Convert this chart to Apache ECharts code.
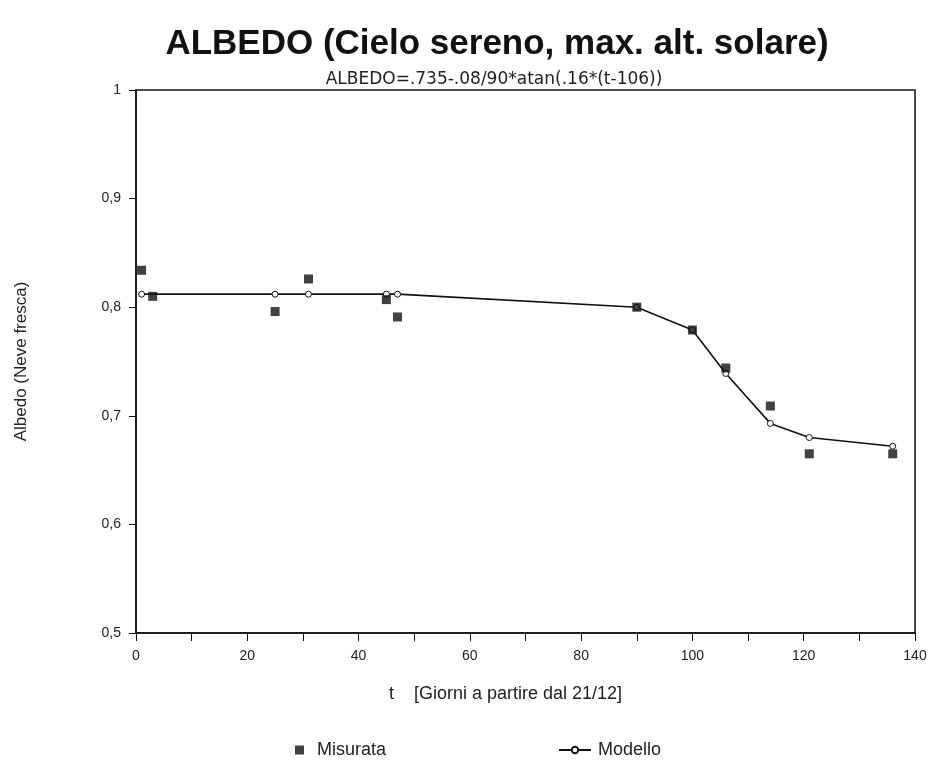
<!DOCTYPE html>
<html>
<head>
<meta charset="utf-8">
<script src="https://cdn.jsdelivr.net/npm/echarts@6/dist/echarts.min.js"></script>
<style>
  html, body { margin: 0; padding: 0; background: #fff; }
  #main { width: 936px; height: 760px; }
</style>
</head>
<body>
<div id="main"></div>
<script>
// giorni (t) e albedo misurata
var tMisurata = [1, 3, 25, 31, 45, 47, 90, 100, 106, 114, 121, 136];
var albedoMisurata = [0.834, 0.810, 0.796, 0.826, 0.807, 0.791, 0.800, 0.779, 0.744, 0.709, 0.665, 0.665];

// modello
var tModello = [1, 25, 31, 45, 47, 90, 100, 106, 114, 121, 136];
var albedoModello = [0.812, 0.812, 0.812, 0.812, 0.812, 0.800, 0.779, 0.739, 0.693, 0.680, 0.672];

var xTicks = [0, 20, 40, 60, 80, 100, 120, 140];
var yTicks = ['0,5', '0,6', '0,7', '0,8', '0,9', '1'];

function pairs(xs, ys) {
  return xs.map(function (x, i) { return [x, ys[i]]; });
}

var myChart = echarts.init(document.getElementById('main'));
var font = 'Liberation Sans, Arial, sans-serif';

var option = {
  backgroundColor: '#fff',
  animation: false,
  title: [
    {
      text: 'ALBEDO (Cielo sereno, max. alt. solare)',
      left: 492,
      top: 22,
      textAlign: 'center',
      textStyle: { fontFamily: font, fontSize: 35, fontWeight: 'bold', color: '#111' }
    },
    {
      text: 'ALBEDO=.735-.08/90*atan(.16*(t-106))',
      left: 489,
      top: 66,
      textAlign: 'center',
      textStyle: { fontFamily: 'DejaVu Sans', fontSize: 17, fontWeight: 'normal', color: '#222' }
    }
  ],
  legend: [
    {
      data: [{ name: 'Misurata', icon: 'rect' }],
      left: 290,
      top: 736,
      itemWidth: 9,
      itemHeight: 9,
      itemGap: 14,
      textStyle: { fontFamily: font, fontSize: 18, color: '#222', padding: [0, 0, 0, 8] }
    },
    {
      data: ['Modello'],
      left: 553,
      top: 736,
      itemWidth: 32,
      itemHeight: 8,
      textStyle: { fontFamily: font, fontSize: 18, color: '#222', padding: [0, 0, 0, 2] }
    }
  ],
  grid: {
    left: 136,
    right: 21,
    top: 90,
    bottom: 127,
    show: true,
    borderColor: '#111',
    borderWidth: 1.5,
    backgroundColor: 'transparent'
  },
  xAxis: {
    type: 'value',
    min: 0,
    max: 140,
    interval: 20,
    name: 't    [Giorni a partire dal 21/12]',
    nameLocation: 'middle',
    nameGap: 52,
    nameTextStyle: { fontFamily: font, fontSize: 18, color: '#222', padding: [0, 40, 0, 0] },
    axisLine: { show: true, lineStyle: { color: '#111', width: 1.5 } },
    axisTick: { show: true, length: 8, lineStyle: { color: '#111' } },
    minorTick: { show: true, splitNumber: 2, length: 8, lineStyle: { color: '#111' } },
    splitLine: { show: false },
    axisLabel: {
      margin: 16,
      fontFamily: font,
      fontSize: 14,
      color: '#222',
      formatter: function (v) { return xTicks.indexOf(v) >= 0 ? String(v) : ''; }
    }
  },
  yAxis: {
    type: 'value',
    min: 0.5,
    max: 1,
    interval: 0.1,
    name: 'Albedo (Neve fresca)',
    nameLocation: 'middle',
    nameGap: 106,
    nameTextStyle: { fontFamily: font, fontSize: 17, color: '#222' },
    axisLine: { show: true, lineStyle: { color: '#111', width: 1.5 } },
    axisTick: { show: true, length: 7, lineStyle: { color: '#111' } },
    splitLine: { show: false },
    axisLabel: {
      margin: 15,
      fontFamily: font,
      fontSize: 14,
      color: '#222',
      formatter: function (v) {
        var i = Math.round((v - 0.5) * 10);
        return yTicks[i] || '';
      }
    }
  },
  series: [
    {
      name: 'Modello',
      type: 'line',
      data: pairs(tModello, albedoModello),
      symbol: 'circle',
      symbolSize: 6,
      z: 2,
      lineStyle: { color: '#111', width: 1.6 },
      itemStyle: { color: '#fff', borderColor: '#111', borderWidth: 1 }
    },
    {
      name: 'Misurata',
      type: 'scatter',
      data: pairs(tMisurata, albedoMisurata),
      symbol: 'rect',
      symbolSize: 9,
      z: 3,
      itemStyle: { color: '#111' }
    }
  ]
};

myChart.setOption(option);
window.addEventListener('resize', function () {
  myChart.resize();
});
</script>
</body>
</html>
